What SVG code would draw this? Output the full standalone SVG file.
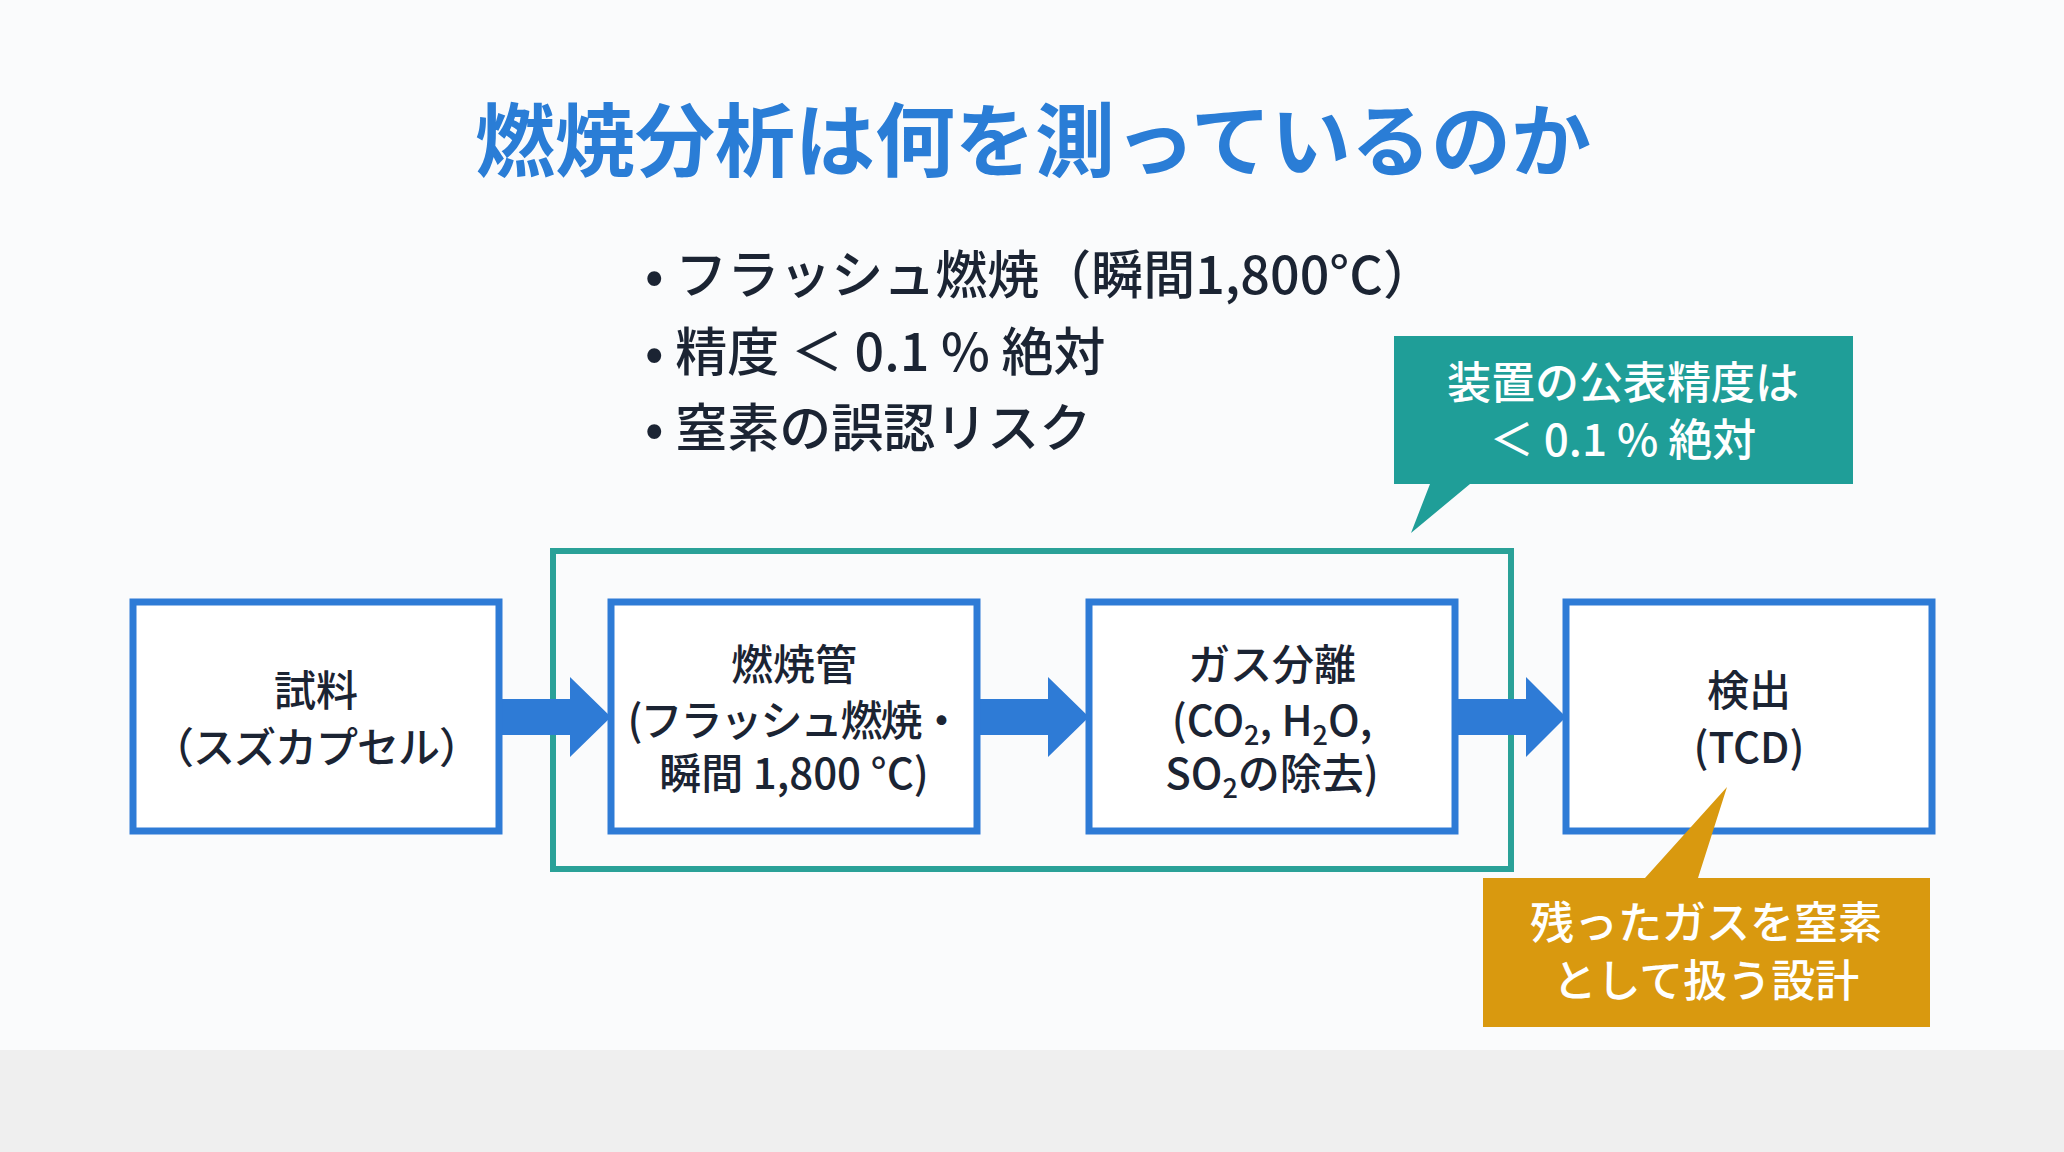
<svg xmlns="http://www.w3.org/2000/svg" width="2064" height="1152" viewBox="0 0 2064 1152">
<style>
text{font-family:"Noto Sans CJK JP","Noto Sans",sans-serif;text-anchor:middle}
.t{font-size:80px;font-weight:bold;fill:#2a7dd6}
.b{font-size:52px;fill:#1b2433;text-anchor:start;font-weight:500}
.n{font-size:42px;fill:#1b2433;font-weight:500}
.box{fill:#fff;stroke:#2e7bd6;stroke-width:7}
.c{font-size:44px;fill:#fff;font-weight:500}
.sub{font-size:27px;baseline-shift:-9px}
</style>
<rect width="2064" height="1152" fill="#fafbfc"/>
<rect y="1050" width="2064" height="102" fill="#efefef"/>
<text class="t" x="1033" y="170">燃焼分析は何を測っているのか</text>
<g id="bullets">
<text class="b" x="645" y="294">• フラッシュ燃焼（瞬間1,800°C）</text>
<text class="b" x="645" y="371">• 精度 ＜ 0.1 % 絶対</text>
<text class="b" x="645" y="447">• 窒素の誤認リスク</text>
</g>
<g id="frame"><rect x="553" y="551" width="958" height="318" fill="none" stroke="#2aa198" stroke-width="6"/></g>
<g id="callout1">
<path d="M1394 336H1853V484H1470L1411 533L1430 484H1394Z" fill="#1f9e98"/>
<text class="c" x="1623" y="399">装置の公表精度は</text>
<text class="c" x="1623" y="456">＜ 0.1 % 絶対</text>
</g>
<g id="connectors" fill="#2e7bd6">
<path d="M499 699H570V677L611 717L570 757V735H499Z"/>
<path d="M977 699H1048V677L1089 717L1048 757V735H977Z"/>
<path d="M1455 699H1526V677L1566 717L1526 757V735H1455Z"/>
</g>
<g id="n1"><rect class="box" x="133" y="602" width="366" height="229"/>
<text class="n" x="316" y="706">試料</text><text class="n" x="316" y="763" letter-spacing="-1">（スズカプセル）</text></g>
<g id="n2"><rect class="box" x="611" y="602" width="366" height="229"/>
<text class="n" x="794" y="680">燃焼管</text><text class="n" x="794" y="736" font-size="38" letter-spacing="-2">(フラッシュ燃焼・</text><text class="n" x="794" y="789" font-size="38">瞬間 1,800 °C)</text></g>
<g id="n3"><rect class="box" x="1089" y="602" width="366" height="229"/>
<text class="n" x="1272" y="680">ガス分離</text>
<text class="n" x="1272" y="736" font-size="40">(CO<tspan class="sub">2</tspan>, H<tspan class="sub">2</tspan>O,</text>
<text class="n" x="1272" y="789" font-size="40">SO<tspan class="sub">2</tspan>の除去)</text></g>
<g id="n4"><rect class="box" x="1566" y="602" width="366" height="229"/>
<text class="n" x="1749" y="706">検出</text><text class="n" x="1749" y="763">(TCD)</text></g>
<g id="callout2">
<path d="M1483 878H1645L1727 787L1698 878H1930V1027H1483Z" fill="#d9990f"/>
<text class="c" x="1706" y="939">残ったガスを窒素</text>
<text class="c" x="1706" y="997">として扱う設計</text>
</g>
</svg>
